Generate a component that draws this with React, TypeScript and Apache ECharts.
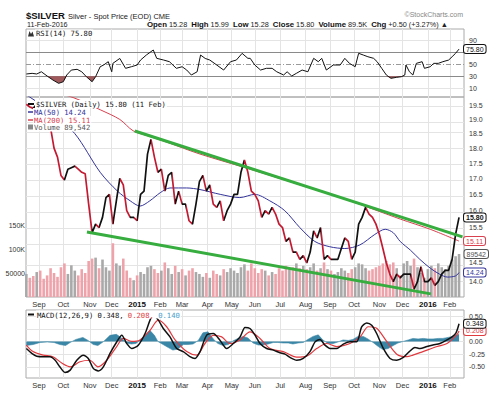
import React, { useEffect, useRef } from "react";
import * as echarts from "echarts";

// ---------------- data ----------------
// x positions are trading-day indexes: 0 = 2 Sep 2014; samples every 3 trading days from 15 Aug 2014
const sampleStartDay = -11;
const sampleStep = 3;

const monthStartDays = [0, 21, 44, 63, 85, 105, 124, 146, 167, 187, 209, 231, 252, 273, 295, 315, 337, 356];
const monthLabels = ["Sep", "Oct", "Nov", "Dec", "2015", "Feb", "Mar", "Apr", "May", "Jun", "Jul", "Aug", "Sep", "Oct", "Nov", "Dec", "2016", "Feb"];

const closePrices = [
  19.55, 19.45, 19.4, 19.55,
  19.2, 19.0, 18.85, 18.7, 18.0, 17.7, 17.1,
  16.95, 17.3, 17.35, 17.4, 17.3, 17.2, 17.15,
  16.2, 15.35, 15.6, 15.5, 15.8, 16.4, 16.5,
  15.6, 16.3, 17.0, 16.8, 16.0, 15.8, 15.8,
  15.7, 16.5, 16.6, 17.8, 18.3, 17.7, 17.2,
  17.3, 16.6, 17.1, 17.2, 16.2, 16.6, 16.2,
  16.2, 15.7, 15.6, 16.2, 16.9, 17.1, 16.6,
  16.8, 16.2, 16.1, 16.3, 15.7, 16.0, 16.2,
  16.5, 16.5, 17.2, 17.6, 17.2, 16.6, 16.5,
  16.3, 15.8, 16.0, 15.9, 16.1, 15.9, 15.6,
  15.5, 15.1, 15.2, 14.8, 14.8, 14.6, 14.7,
  14.5, 14.8, 15.4, 15.2, 15.5, 14.6, 14.7,
  14.6, 14.6, 14.6, 14.9, 15.2, 15.1, 14.6,
  14.8, 15.6, 15.8, 16.1, 15.9, 15.8, 15.6,
  15.3, 14.9, 14.5, 14.2, 14.0, 14.2, 14.1,
  14.2, 14.2, 14.2, 13.8, 14.0, 14.4, 14.0,
  14.0, 14.1, 13.9, 14.0, 14.2, 14.3, 14.3,
  14.6, 15.3, 15.8,
];

const volumeK = [
  48, 40, 44, 52,
  55, 38, 45, 60, 50, 42, 62,
  70, 48, 66, 55, 45, 58, 50,
  75, 80, 82, 60, 78, 62, 55,
  112, 70, 65, 80, 55, 40, 35,
  45, 52, 48, 62, 65, 58, 50,
  55, 72, 60, 48, 65, 52, 58,
  45, 55, 60, 52, 48, 42, 50,
  40, 55, 48, 45, 58, 52, 60,
  55, 50, 62, 68, 55, 70, 60,
  50, 58, 55, 45, 52, 48, 60,
  55, 65, 58, 62, 70, 60, 65,
  58, 62, 70, 55, 60, 72, 58,
  55, 48, 52, 60, 55, 50, 58,
  62, 70, 68, 60, 55, 58, 62,
  65, 70, 75, 68, 72, 60, 45,
  70, 75, 65, 80, 62, 50, 40,
  58, 65, 60, 70, 62, 58, 65,
  78, 85, 89.542,
];

const ma50Days = [-11, 9.5, 31, 53, 68, 79, 87.5, 96, 105, 113.5, 128, 139.5, 157, 174, 187, 200, 213, 226, 239, 252, 265, 278, 291, 300, 307, 313, 322, 330, 339, 347, 354, 361, 364];
const ma50Values = [19.9, 19.3, 18.5, 17.2, 16.6, 16.3, 16.14, 16.3, 16.55, 16.7, 16.7, 16.65, 16.5, 16.4, 16.5, 16.3, 16.0, 15.5, 15.1, 14.95, 14.9, 15.0, 15.3, 15.45, 15.35, 15.1, 14.85, 14.6, 14.36, 14.2, 14.12, 14.15, 14.24];

const ma200Days = [-11, 29.5, 53, 70, 81.5, 96, 111, 139.5, 183, 226, 269.5, 313, 339, 364];
const ma200Values = [20.3, 19.8, 19.35, 19.0, 18.6, 18.4, 18.2, 17.8, 17.3, 16.8, 16.3, 15.75, 15.45, 15.11];

const rsiDays = [-11, -6, -2, 2, 7, 12, 17, 21, 24, 28, 33, 37, 41, 46, 49, 53, 56, 60, 63, 64, 70, 75, 80, 85, 88, 93, 99, 102, 108, 113, 119, 124, 128, 132, 137, 140, 144, 148, 154, 160, 166, 171, 176, 181, 183, 187, 192, 197, 202, 206, 212, 215, 219, 223, 228, 233, 238, 242, 245, 249, 255, 261, 265, 269, 274, 277, 281, 285, 290, 293, 297, 301, 305, 310, 314, 317, 318, 321, 324, 327, 332, 334, 339, 342, 346, 350, 355, 358, 361, 364];
const rsiValues = [33.7, 34.8, 33.7, 37.5, 30.3, 23.5, 17.9, 20.6, 32, 40.4, 41.6, 37.5, 29.1, 20.6, 29, 46, 48.9, 54.5, 37.5, 51.7, 60, 43.3, 46, 48.9, 57.3, 65.8, 74.3, 60.2, 57.3, 54.5, 43.3, 46, 40.4, 32, 37.5, 65.8, 60, 57.3, 48.9, 40.4, 54.5, 57.3, 68.6, 60.2, 60.2, 48.9, 40.4, 43.3, 43.3, 37.5, 32, 37.5, 30.3, 34.8, 40.4, 37.5, 60.2, 54.5, 60.2, 40.4, 48.9, 48.9, 60.2, 51.7, 46, 68.7, 65.8, 62.9, 60.2, 54.5, 43.3, 32, 26.4, 28.1, 29.1, 32, 48.9, 37.5, 32, 51.7, 54.5, 43.3, 46, 51.7, 51.7, 54.5, 57.3, 62.9, 68.7, 75.8];

const macdDays = [-11, -6, -2, 4, 9.5, 14, 18, 22.5, 27, 32.7, 38.4, 42.7, 47, 51.4, 55.7, 61.5, 67.3, 71.7, 76, 80.3, 86, 91.9, 96.2, 99, 103.4, 107.7, 113.5, 119.3, 125, 130.8, 135.2, 139.5, 145.3, 151, 156.8, 162.6, 168.4, 174.2, 178.5, 182.8, 187.2, 191.5, 197.3, 203, 208.8, 213.2, 217.5, 223.3, 229, 234.8, 239.2, 243.5, 247.8, 252.2, 258, 263.7, 269.5, 275.3, 279.6, 284, 288.3, 292.6, 298.4, 304.2, 310, 315.7, 320.9, 325.8, 330.2, 336.2, 341.4, 347.5, 353.6, 357.9, 361.4, 364];
const macdValues = [-0.14, -0.24, -0.29, -0.3, -0.3, -0.37, -0.5, -0.61, -0.565, -0.37, -0.27, -0.335, -0.53, -0.58, -0.5, -0.236, -0.01, 0.124, -0.04, -0.138, -0.073, 0.157, 0.42, 0.52, 0.42, 0.256, 0.09, -0.138, -0.2, -0.3, -0.335, -0.2, 0.124, 0.157, 0.026, -0.138, -0.04, 0.09, 0.276, 0.256, 0.124, -0.04, -0.138, -0.17, -0.224, -0.25, -0.315, -0.37, -0.335, -0.2, -0.008, 0.04, -0.073, -0.138, -0.138, -0.053, -0.008, -0.008, 0.287, 0.366, 0.32, 0.157, -0.138, -0.335, -0.37, -0.315, -0.2, -0.12, -0.14, -0.1, -0.07, -0.04, 0.03, 0.09, 0.17, 0.348];

const signalDays = [-11, -5.2, 3.5, 12, 20, 27, 35.5, 44, 51, 58.7, 67.3, 73, 80.3, 87.5, 96.2, 103.4, 110.6, 117.9, 128, 136.7, 143.8, 151, 158.3, 165.5, 174.2, 182.8, 191.5, 200.2, 211.7, 223.3, 232, 240.6, 249.3, 258, 269.5, 278.2, 285.4, 292.6, 301.3, 310, 318.7, 324, 332.7, 345, 353.6, 362.3, 364];
const signalValues = [-0.07, -0.2, -0.27, -0.3, -0.43, -0.5, -0.4, -0.37, -0.5, -0.37, -0.1, 0.06, 0.0, 0.03, 0.22, 0.42, 0.29, 0.03, -0.2, -0.27, -0.04, 0.12, 0.09, -0.04, 0.03, 0.19, 0.06, -0.14, -0.2, -0.31, -0.29, -0.14, -0.04, -0.1, -0.04, 0.09, 0.29, 0.26, 0.0, -0.25, -0.3, -0.27, -0.2, -0.1, -0.04, 0.14, 0.208];

const histDays = [-11, -5, 1, 7, 13, 18, 23, 27, 32, 38, 42.5, 47, 51, 56, 61.5, 67, 71, 75.5, 80, 84, 88.5, 93, 96, 100, 103, 107.5, 112, 116, 120.5, 125, 129, 133.5, 138, 142, 146.5, 151, 155, 159.5, 164, 168, 172.5, 177, 181, 185.5, 190, 194, 198.5, 203, 207, 211.5, 216, 220, 224.5, 229, 233, 237.5, 242, 246, 250.5, 255, 259, 263.5, 268, 272, 276.5, 281, 285, 289.5, 294, 298, 302.5, 307, 311, 315.5, 320, 324, 328.5, 333, 337, 341.5, 346, 350, 354.5, 359, 364];
const histValues = [-0.08, -0.06, -0.02, -0.01, -0.02, -0.06, -0.08, -0.02, 0.04, 0.08, 0.02, -0.06, -0.08, 0.0, 0.12, 0.14, 0.08, -0.03, -0.05, -0.04, 0.05, 0.14, 0.22, 0.12, 0.0, -0.06, -0.12, -0.17, -0.15, -0.06, -0.06, -0.05, 0.02, 0.17, 0.19, 0.05, -0.04, -0.08, -0.06, 0.01, 0.06, 0.1, 0.07, -0.03, -0.07, -0.07, -0.05, -0.02, -0.02, -0.03, -0.03, -0.05, -0.03, -0.02, 0.04, 0.1, 0.13, 0.03, -0.04, -0.04, -0.01, 0.03, 0.02, 0.04, 0.1, 0.1, 0.05, -0.02, -0.1, -0.16, -0.14, -0.08, -0.03, 0.0, 0.03, 0.06, 0.05, 0.06, 0.05, 0.05, 0.06, 0.06, 0.08, 0.1, 0.14];

const upperTrendDays = [83, 367];
const upperTrendPrices = [18.59, 15.23];
const lowerTrendDays = [41.5, 339.5];
const lowerTrendPrices = [15.37, 13.68];

// grid lines
const priceTicks = [14.0, 14.5, 15.0, 15.5, 16.0, 16.5, 17.0, 17.5, 18.0, 18.5, 19.0, 19.5];
const macdTicks = [-0.5, -0.25, 0, 0.25, 0.5];
// tick labels that the reference shows (others are covered by the value boxes)
const priceLabelTicks = [14.0, 14.5, 15.5, 16.0, 16.5, 17.0, 17.5, 18.0, 18.5, 19.0, 19.5];
const rsiLabelTicks = [10, 30, 50, 90];
const macdLabelTicks = [-0.5, -0.25, 0, 0.5];
const volumeTicksK = [50, 100, 150];

// ---------------- styling ----------------
const FONT = '"Liberation Sans", Arial, sans-serif';
const MONO = '"DejaVu Sans Mono", monospace';
const BLACK = "#111111";
const RED = "#c31a32";
const MA50C = "#34349c";
const MA200C = "#d8404f";
const GREEN = "#36ad3e";
const HIST = "#3a86a6";
const PINK = "#eea3aa";
const GRAY = "#a9a9a9";
const GRID = "#e4e4e4";
const AXISTXT = "#333333";

const xMin = -11.3;
const xMax = 368.3;

const boxLabel = (color: string, text: string, bold = false) => ({
  show: true,
  distance: 5,
  formatter: () => text,
  fontSize: 7,
  fontFamily: FONT,
  fontWeight: bold ? "bold" : "normal",
  color,
  backgroundColor: "#fff",
  borderColor: color,
  borderWidth: 1,
  borderRadius: 2,
  padding: [1, 2, 0, 2],
});

function buildOption() {
  const days = closePrices.map((_, i) => sampleStartDay + i * sampleStep);
  const lastDay = days[days.length - 1];
  const lastClose = closePrices[closePrices.length - 1];
  const lastVol = volumeK[volumeK.length - 1];

  const xAxisFor = (gridIndex: number, labels: boolean, margin: number) => ({
    type: "value",
    gridIndex,
    min: xMin,
    max: xMax,
    axisLine: { show: false },
    axisTick: { show: false },
    splitLine: { show: false },
    axisLabel: labels
      ? {
          show: true,
          customValues: monthStartDays,
          margin,
          fontSize: 7.5,
          fontFamily: FONT,
          color: AXISTXT,
          formatter: (v: number) => {
            const i = monthStartDays.indexOf(Math.round(v));
            const t = i >= 0 ? monthLabels[i] : "";
            return /^\d{4}$/.test(t) ? `{y|${t}}` : t;
          },
          rich: { y: { fontWeight: "bold", fontSize: 8, fontFamily: FONT, color: "#111" } },
        }
      : { show: false },
  });

  const gridMarkLine = (yVals: number[], extra: any[] = []) => ({
    silent: true,
    symbol: ["none", "none"],
    label: { show: false },
    z: 1,
    animation: false,
    lineStyle: { color: GRID, width: 1, type: "solid" },
    data: [...monthStartDays.map((d) => ({ xAxis: d })), ...yVals.map((v) => ({ yAxis: v })), ...extra],
  });

  const helper = (xi: number, yi: number, y0: number, ml: any) => ({
    type: "line",
    xAxisIndex: xi,
    yAxisIndex: yi,
    data: [[xMin, y0]],
    showSymbol: false,
    lineStyle: { opacity: 0 },
    silent: true,
    z: 1,
    markLine: ml,
  });

  const lnPair = (d: number[], p: number[]) => d.map((x, i) => [x, Math.log(p[i])]);

  const pieces: any[] = [];
  for (let i = 1; i < closePrices.length; i++) {
    const down = closePrices[i] < closePrices[i - 1];
    const p: any = { gte: days[i - 1], color: down ? RED : BLACK };
    if (i === closePrices.length - 1) p.lte = xMax;
    else p.lt = days[i];
    pieces.push(p);
  }

  const series: any[] = [
    // ---- RSI panel ----
    helper(0, 0, 50, gridMarkLine([10, 90], [
      { yAxis: 70, lineStyle: { color: "#8a8a8a", width: 1, type: "solid" } },
      { yAxis: 30, lineStyle: { color: "#8a8a8a", width: 1, type: "solid" } },
      { yAxis: 50, lineStyle: { color: "#9a9a9a", width: 1, type: [5, 2, 1, 2] } },
    ])),
    {
      type: "line",
      xAxisIndex: 0,
      yAxisIndex: 0,
      data: rsiDays.map((d, i) => [d, Math.min(rsiValues[i], 30)]),
      showSymbol: false,
      lineStyle: { width: 0 },
      areaStyle: { origin: 30, color: "#a05a5c", opacity: 1 },
      silent: true,
      z: 2,
    },
    {
      type: "line",
      xAxisIndex: 0,
      yAxisIndex: 0,
      data: rsiDays.map((d, i) => [d, rsiValues[i]]),
      showSymbol: false,
      lineStyle: { color: BLACK, width: 1 },
      endLabel: boxLabel(BLACK, rsiValues[rsiValues.length - 1].toFixed(2)),
      z: 3,
    },
    // ---- price panel ----
    helper(1, 1, Math.log(16), gridMarkLine(priceTicks.map((p) => Math.log(p)))),
    {
      type: "bar",
      xAxisIndex: 1,
      yAxisIndex: 2,
      barWidth: 2.6,
      data: days.map((d, i) => ({
        value: [d, volumeK[i]],
        itemStyle: { color: i > 0 && closePrices[i] < closePrices[i - 1] ? PINK : GRAY },
      })),
      markPoint: {
        symbol: "rect",
        symbolSize: 1,
        itemStyle: { color: "rgba(0,0,0,0)" },
        label: { ...boxLabel("#555555", String(Math.round(lastVol * 1000))), position: "right", distance: 5 },
        data: [{ coord: [lastDay, lastVol] }],
      },
      z: 2,
    },
    {
      type: "line",
      xAxisIndex: 1,
      yAxisIndex: 1,
      data: lnPair(ma200Days, ma200Values),
      smooth: 0.3,
      showSymbol: false,
      lineStyle: { color: MA200C, width: 1 },
      endLabel: boxLabel(MA200C, ma200Values[ma200Values.length - 1].toFixed(2)),
      z: 3,
    },
    {
      type: "line",
      xAxisIndex: 1,
      yAxisIndex: 1,
      data: lnPair(ma50Days, ma50Values),
      smooth: 0.3,
      showSymbol: false,
      lineStyle: { color: MA50C, width: 1 },
      endLabel: boxLabel(MA50C, ma50Values[ma50Values.length - 1].toFixed(2)),
      z: 3,
    },
    {
      id: "price",
      type: "line",
      xAxisIndex: 1,
      yAxisIndex: 1,
      data: lnPair(days, closePrices),
      showSymbol: false,
      lineStyle: { width: 1.7 },
      endLabel: boxLabel(BLACK, lastClose.toFixed(2), true),
      z: 4,
    },
    {
      type: "line",
      xAxisIndex: 1,
      yAxisIndex: 1,
      data: lnPair(upperTrendDays, upperTrendPrices),
      showSymbol: false,
      lineStyle: { color: GREEN, width: 3 },
      z: 5,
    },
    {
      type: "line",
      xAxisIndex: 1,
      yAxisIndex: 1,
      data: lnPair(lowerTrendDays, lowerTrendPrices),
      showSymbol: false,
      lineStyle: { color: GREEN, width: 3 },
      z: 5,
    },
    // ---- MACD panel ----
    helper(2, 3, 0, gridMarkLine(macdTicks)),
    {
      type: "line",
      xAxisIndex: 2,
      yAxisIndex: 3,
      data: histDays.map((d, i) => [d, histValues[i]]),
      showSymbol: false,
      lineStyle: { width: 0.6, color: HIST },
      areaStyle: { origin: 0, color: HIST, opacity: 1 },
      z: 2,
    },
    {
      type: "line",
      xAxisIndex: 2,
      yAxisIndex: 3,
      data: signalDays.map((d, i) => [d, signalValues[i]]),
      smooth: 0.3,
      showSymbol: false,
      lineStyle: { color: "#e0393e", width: 1.2 },
      endLabel: boxLabel("#e0393e", signalValues[signalValues.length - 1].toFixed(3)),
      z: 3,
    },
    {
      type: "line",
      xAxisIndex: 2,
      yAxisIndex: 3,
      data: macdDays.map((d, i) => [d, macdValues[i]]),
      smooth: 0.25,
      showSymbol: false,
      lineStyle: { color: BLACK, width: 1.5 },
      endLabel: boxLabel(BLACK, macdValues[macdValues.length - 1].toFixed(3)),
      z: 4,
    },
  ];

  const priceIndex = series.findIndex((s) => s.id === "price");

  const rightAxis = (gridIndex: number, min: number, max: number, values: number[], fmt: (v: number) => string) => ({
    type: "value",
    gridIndex,
    position: "right",
    min,
    max,
    axisLine: { show: false },
    axisTick: { show: false },
    splitLine: { show: false },
    axisLabel: {
      customValues: values,
      formatter: fmt,
      margin: 5,
      fontSize: 7,
      fontFamily: FONT,
      color: AXISTXT,
    },
  });

  const legendText = (x: number, y: number, text: string, color: string) => ({
    type: "text",
    x,
    y,
    z: 100,
    style: {
      text,
      fill: color,
      fontSize: 7.2,
      fontFamily: MONO,
      verticalAlign: "middle",
      backgroundColor: "#fff",
      padding: [1, 1, 0, 1],
    },
  });

  const dash = (x1: number, x2: number, y: number, color: string, w: number) => ({
    type: "line",
    z: 101,
    shape: { x1, y1: y, x2, y2: y },
    style: { stroke: color, lineWidth: w },
  });

  return {
    animation: false,
    backgroundColor: "#ffffff",
    grid: [
      { left: 26, right: 36, top: 29, height: 68, show: true, borderColor: "#aaaaaa", borderWidth: 1, backgroundColor: "transparent" },
      { left: 26, right: 36, top: 97, height: 200, show: true, borderColor: "#aaaaaa", borderWidth: 1, backgroundColor: "transparent" },
      { left: 26, right: 36, top: 310, height: 68, show: true, borderColor: "#aaaaaa", borderWidth: 1, backgroundColor: "transparent" },
    ],
    xAxis: [xAxisFor(0, false, 0), xAxisFor(1, true, 3), xAxisFor(2, true, 3)],
    yAxis: [
      rightAxis(0, -5.2, 109.8, rsiLabelTicks, (v) => String(Math.round(v))),
      rightAxis(1, Math.log(13.6), Math.log(19.82), priceLabelTicks.map((p) => Math.log(p)), (v) => Math.exp(v).toFixed(1)),
      {
        type: "value",
        gridIndex: 1,
        position: "left",
        min: 0,
        max: 416.67,
        axisLine: { show: false },
        axisTick: { show: false },
        splitLine: { show: false },
        axisLabel: {
          customValues: volumeTicksK,
          formatter: (v: number) => (v >= 100 ? `${Math.round(v)}K` : String(Math.round(v * 1000))),
          margin: 1,
          fontSize: 7,
          fontFamily: FONT,
          color: AXISTXT,
        },
      },
      rightAxis(2, -0.72, 0.62, macdLabelTicks, (v) => v.toFixed(2)),
    ],
    visualMap: [
      {
        type: "piecewise",
        show: false,
        dimension: 0,
        seriesIndex: priceIndex,
        pieces,
        outOfRange: { color: BLACK },
      },
    ],
    series,
    graphic: [
      { type: "text", x: 26, y: 15.5, z: 100, style: { text: "$SILVER", fill: "#111", fontSize: 9.5, fontWeight: "bold", fontFamily: FONT, verticalAlign: "middle" } },
      { type: "text", x: 68, y: 16, z: 100, style: { text: "Silver - Spot Price (EOD) CME", fill: "#222", fontSize: 7.5, fontFamily: FONT, verticalAlign: "middle" } },
      { type: "text", x: 27, y: 24.5, z: 100, style: { text: "11-Feb-2016", fill: "#222", fontSize: 7.2, fontFamily: FONT, verticalAlign: "middle" } },
      {
        type: "text",
        x: 147,
        y: 24.5,
        z: 100,
        style: {
          text: "{b|Open} 15.28  {b|High} 15.99  {b|Low} 15.28  {b|Close} 15.80  {b|Volume} 89.5K  {b|Chg} +0.50 (+3.27%) \u25B2",
          fill: "#222",
          fontSize: 7.3,
          fontFamily: FONT,
          verticalAlign: "middle",
          rich: { b: { fontWeight: "bold", fontSize: 7.8, fontFamily: FONT, fill: "#111" } },
        },
      },
      { type: "text", x: 463, y: 14.5, z: 100, style: { text: "\u00A9StockCharts.com", fill: "#888", fontSize: 7, fontFamily: FONT, align: "right", verticalAlign: "middle" } },
      // RSI legend
      { type: "polygon", z: 101, shape: { points: [[28, 36.5], [29.5, 31], [31, 34], [32.5, 31.5], [34, 36.5]] }, style: { fill: "#333" } },
      legendText(35, 33.5, "RSI(14) 75.80", "#111"),
      // price legend
      dash(28, 34, 104, BLACK, 2),
      legendText(35, 104, "$SILVER (Daily) 15.80 (11 Feb)", "#111"),
      dash(28, 33, 112, MA50C, 1.5),
      legendText(33, 112, "MA(50) 14.24", MA50C),
      dash(28, 33, 120, MA200C, 1.5),
      legendText(33, 120, "MA(200) 15.11", MA200C),
      { type: "rect", z: 101, shape: { x: 28, y: 124.5, width: 5, height: 5 }, style: { fill: "#888" } },
      legendText(33, 127.5, "Volume 89,542", "#555"),
      // MACD legend
      dash(28, 34, 314.5, BLACK, 2),
      {
        type: "text",
        x: 36,
        y: 314.5,
        z: 100,
        style: {
          text: "MACD(12,26,9) 0.348, {r|0.208,} {b|0.140}",
          fill: "#111",
          fontSize: 7.2,
          fontFamily: MONO,
          verticalAlign: "middle",
          backgroundColor: "#fff",
          padding: [1, 1, 0, 1],
          rich: {
            r: { fill: "#e0393e", fontSize: 7.2, fontFamily: MONO },
            b: { fill: "#4aa0cc", fontSize: 7.2, fontFamily: MONO },
          },
        },
      },
    ],
  };
}

export default function App() {
  const ref = useRef<HTMLDivElement>(null);
  useEffect(() => {
    if (!ref.current) return;
    const chart = echarts.init(ref.current, null, { renderer: "svg" });
    chart.setOption(buildOption() as any);
    return () => chart.dispose();
  }, []);
  return (
    <div
      ref={ref}
      style={{ position: "absolute", left: 0, top: 0, width: 500, height: 396, background: "#fff" }}
    />
  );
}
